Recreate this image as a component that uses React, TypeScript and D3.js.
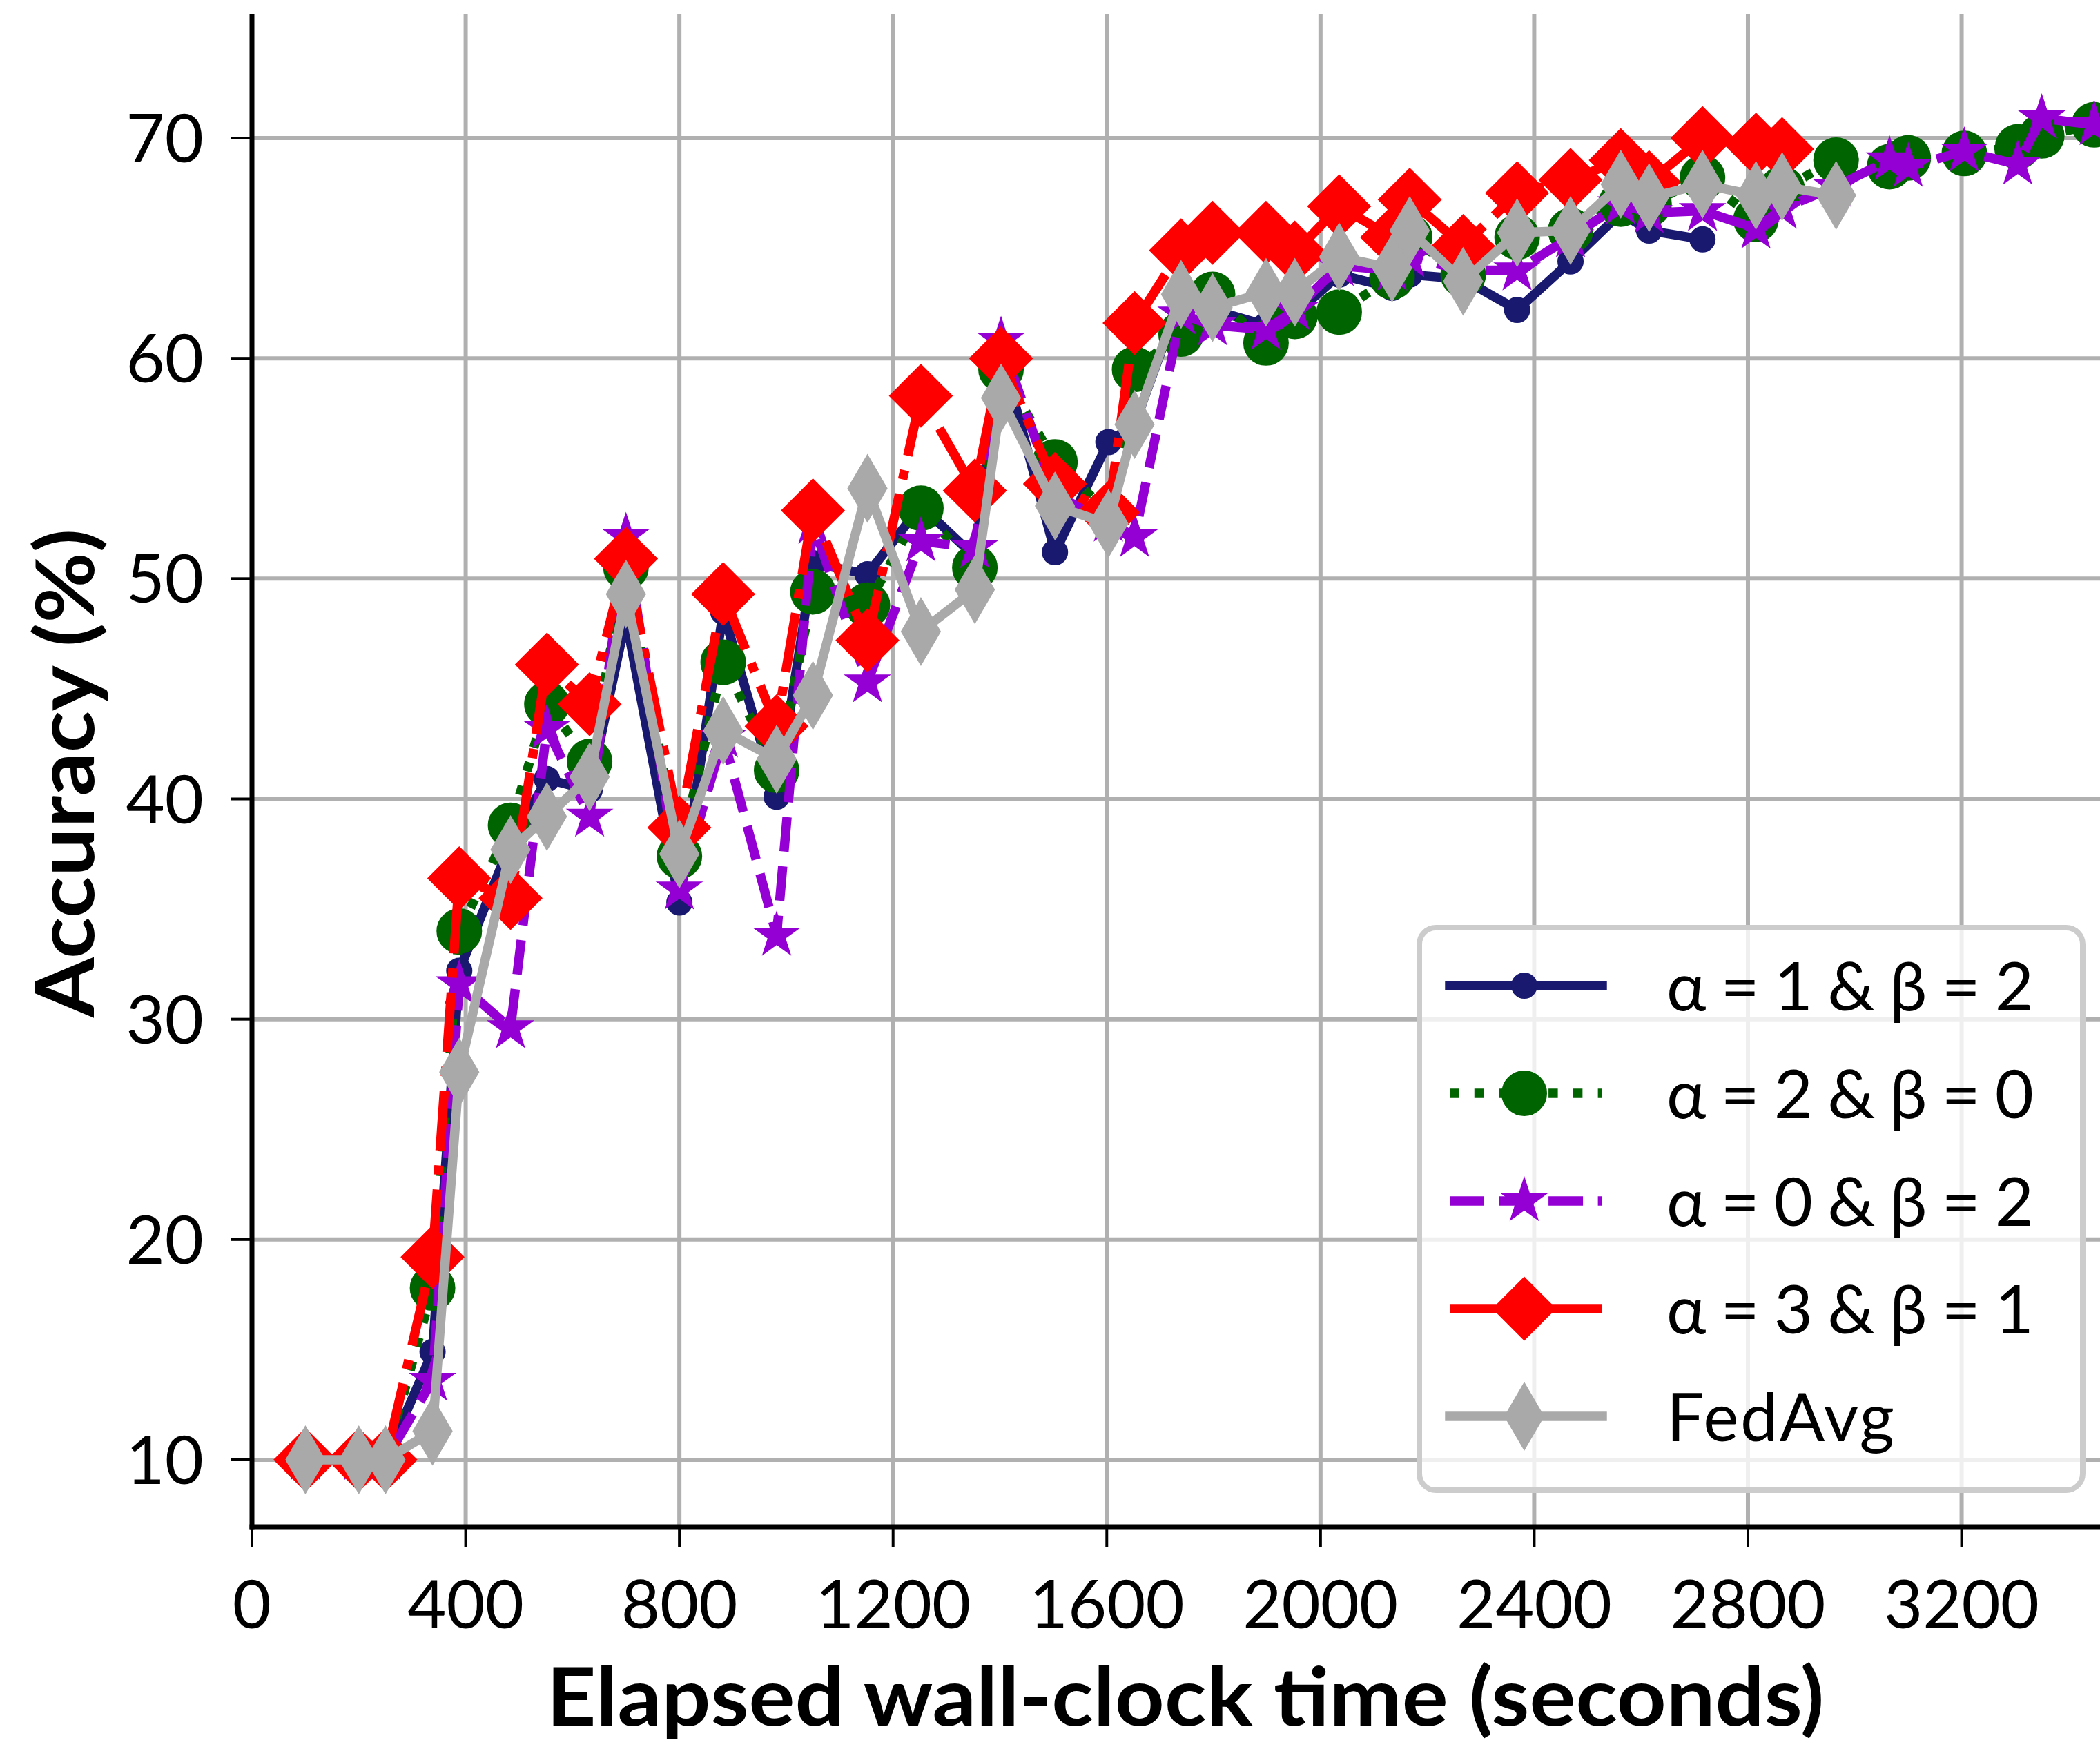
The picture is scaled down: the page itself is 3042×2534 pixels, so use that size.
import React from 'react';
import * as d3 from 'd3';

// elapsed wall-clock time of each evaluation round (seconds)
const times = [100, 200, 250, 338, 388, 484, 552, 632, 700, 800, 882, 982, 1050, 1152, 1252, 1353, 1402, 1503, 1603, 1652, 1739, 1798, 1898, 1952, 2035, 2134, 2167, 2267, 2368, 2468, 2562, 2615, 2715, 2815, 2864, 2965, 3065, 3100, 3205, 3305, 3350, 3448];

// accuracy (%) per run, one entry per time above (shorter runs stop early)
const accA1B2 = [10, 10, 10, 14.9, 32.2, 38.0, 40.9, 40.4, 48.2, 35.3, 48.5, 40.1, 50.7, 50.2, 53.3, 51.0, 60.3, 51.2, 56.2, 57.0, 62.8, 62.2, 61.5, 62.0, 63.8, 63.2, 63.8, 63.6, 62.2, 64.4, 66.6, 65.8, 65.4];
const accA2B0 = [10, 10, 10, 17.8, 34.0, 38.8, 44.3, 41.7, 50.5, 37.4, 46.2, 41.3, 49.4, 48.8, 53.2, 50.5, 59.5, 55.3, 53.0, 59.5, 61.1, 62.9, 60.7, 61.9, 62.1, 63.7, 65.5, 63.8, 65.5, 65.8, 67.0, 67.0, 68.2, 66.3, 67.7, 69.0, 68.7, 69.1, 69.3, 69.6, 70.1, 70.6];
const accA0B2 = [10, 10, 10, 13.6, 31.6, 29.6, 43.2, 39.2, 51.9, 35.9, 42.8, 33.8, 52.5, 45.3, 51.7, 51.4, 60.8, 53.8, 52.6, 51.9, 62.0, 61.5, 61.3, 62.2, 64.2, 64.0, 64.6, 64.0, 64.0, 65.5, 67.0, 66.6, 66.7, 65.9, 66.8, 67.8, 69.0, 68.7, 69.4, 68.8, 70.9, 70.6];
const accA3B1 = [10, 10, 10, 19.2, 36.4, 35.5, 46.1, 44.3, 50.9, 38.7, 49.3, 43.3, 53.1, 47.2, 58.3, 54.0, 60.0, 54.3, 53.0, 61.6, 64.9, 65.7, 65.7, 64.8, 66.9, 65.5, 67.2, 65.1, 67.5, 68.1, 69.0, 68.0, 70.0, 69.7, 69.5];
const accFedAvg = [10, 10, 10, 11.3, 27.6, 37.7, 39.2, 41.0, 49.3, 37.5, 43.1, 41.8, 44.7, 54.1, 47.6, 49.5, 58.2, 53.3, 52.5, 57.0, 62.9, 62.3, 63.0, 63.0, 64.6, 64.1, 65.8, 63.5, 65.7, 65.8, 67.9, 67.3, 67.9, 67.4, 67.8, 67.4];

const seriesNames = ['α = 1 & β = 2', 'α = 2 & β = 0', 'α = 0 & β = 2', 'α = 3 & β = 1', 'FedAvg'];

const xTicks = [0, 400, 800, 1200, 1600, 2000, 2400, 2800, 3200];
const yTicks = [10, 20, 30, 40, 50, 60, 70];

const W = 3042;
const H = 2534;
const plot = { left: 365, top: 20, right: 3042, bottom: 2212 };
const FONT = 'Lato, "Source Sans Pro", "Noto Sans", sans-serif';
const LW = 13.5;

const x = d3.scaleLinear().domain([0, 3459]).range([plot.left, plot.right]);
const y = d3.scaleLinear().domain([10, 70]).range([2115, 200]);

const diamond = (w: number, h: number) => `M0,${-h}L${w},0L0,${h}L${-w},0Z`;
const circle = (r: number) => d3.symbol(d3.symbolCircle, Math.PI * r * r)() as string;
const star = (r: number) => d3.symbol(d3.symbolStar, (r * r) / 0.8908130915292852)() as string;

const styles = [
  { values: accA1B2, color: '#191970', dash: null, marker: circle(18) },
  { values: accA2B0, color: '#006400', dash: `${LW} ${LW * 1.65}`, marker: circle(32) },
  { values: accA0B2, color: '#9400D3', dash: `${LW * 3.7} ${LW * 1.6}`, marker: star(33) },
  { values: accA3B1, color: '#FF0000', dash: `${LW * 6.4} ${LW * 1.6} ${LW} ${LW * 1.6}`, marker: diamond(45, 45) },
  { values: accFedAvg, color: '#A9A9A9', dash: null, marker: diamond(28, 48) },
];

const legendTextLen = [532, 532, 532, 532, 330];

const line = d3
  .line<[number, number]>()
  .x((d) => x(d[0]))
  .y((d) => y(d[1]));

export default function App() {
  const legend = { x: 2056, y: 1344, w: 961, h: 815, row0: 1428, step: 156 };

  return (
    <svg
      width={W}
      height={H}
      style={{ position: 'absolute', left: 0, top: 0, background: '#fff' }}
      fontFamily={FONT}
    >
      <defs>
        <clipPath id="plot-clip">
          <rect x={plot.left} y={plot.top} width={plot.right - plot.left} height={plot.bottom - plot.top} />
        </clipPath>
      </defs>
      <rect width={W} height={H} fill="#fff" />

      {/* grid */}
      <g stroke="#b0b0b0" strokeWidth={6} clipPath="url(#plot-clip)">
        {xTicks.map((t) => (
          <line key={`gx${t}`} x1={x(t)} x2={x(t)} y1={plot.top} y2={plot.bottom} />
        ))}
        {yTicks.map((t) => (
          <line key={`gy${t}`} x1={plot.left} x2={plot.right} y1={y(t)} y2={y(t)} />
        ))}
      </g>

      {/* series */}
      <g clipPath="url(#plot-clip)">
        {styles.map((s, i) => {
          const pts = s.values.map((v, j) => [times[j], v] as [number, number]);
          return (
            <g key={i}>
              <path
                d={line(pts) as string}
                fill="none"
                stroke={s.color}
                strokeWidth={LW}
                strokeDasharray={s.dash ?? undefined}
                strokeLinejoin="round"
                strokeLinecap={s.dash ? 'butt' : 'square'}
              />
              {pts.map((p, j) => (
                <path key={j} d={s.marker} transform={`translate(${x(p[0])},${y(p[1])})`} fill={s.color} stroke={s.color} strokeWidth={2} />
              ))}
            </g>
          );
        })}
      </g>

      {/* spines */}
      <line x1={plot.left} x2={plot.left} y1={plot.top} y2={plot.bottom + 3.5} stroke="#000" strokeWidth={7} />
      <line x1={plot.left - 3.5} x2={plot.right} y1={plot.bottom} y2={plot.bottom} stroke="#000" strokeWidth={7} />

      {/* x axis */}
      <g>
        {xTicks.map((t) => (
          <g key={`xt${t}`}>
            <line x1={x(t)} x2={x(t)} y1={plot.bottom} y2={plot.bottom + 30} stroke="#000" strokeWidth={4} />
            <text x={x(t)} y={2359} textAnchor="middle" fontSize={97} fill="#000">
              {t}
            </text>
          </g>
        ))}
        <text
          x={1717}
          y={2500}
          textAnchor="middle"
          fontSize={116}
          fontWeight="bold"
          fill="#000"
          textLength={1851}
          lengthAdjust="spacingAndGlyphs"
        >
          Elapsed wall-clock time (seconds)
        </text>
      </g>

      {/* y axis */}
      <g>
        {yTicks.map((t) => (
          <g key={`yt${t}`}>
            <line x1={plot.left - 30} x2={plot.left} y1={y(t)} y2={y(t)} stroke="#000" strokeWidth={4} />
            <text x={295} y={y(t) + 35} textAnchor="end" fontSize={97} fill="#000">
              {t}
            </text>
          </g>
        ))}
        <text
          transform="translate(136,1120) rotate(-90)"
          textAnchor="middle"
          fontSize={116}
          fontWeight="bold"
          fill="#000"
          textLength={708}
          lengthAdjust="spacingAndGlyphs"
        >
          Accuracy (%)
        </text>
      </g>

      {/* legend */}
      <g>
        <rect
          x={legend.x}
          y={legend.y}
          width={legend.w}
          height={legend.h}
          rx={24}
          fill="#fff"
          fillOpacity={0.8}
          stroke="#cccccc"
          strokeWidth={8}
        />
        {styles.map((s, i) => {
          const cy = legend.row0 + i * legend.step;
          return (
            <g key={`lg${i}`}>
              <line
                x1={2100}
                x2={2321}
                y1={cy}
                y2={cy}
                stroke={s.color}
                strokeWidth={LW}
                strokeDasharray={s.dash ?? undefined}
                strokeLinecap={s.dash ? 'butt' : 'square'}
              />
              <path d={s.marker} transform={`translate(2208,${cy})`} fill={s.color} stroke={s.color} strokeWidth={2} />
              <text
                x={2414}
                y={cy + 36}
                fontSize={97}
                fill="#000"
                textLength={legendTextLen[i]}
                lengthAdjust="spacing"
              >
                {seriesNames[i]}
              </text>
            </g>
          );
        })}
      </g>
    </svg>
  );
}
